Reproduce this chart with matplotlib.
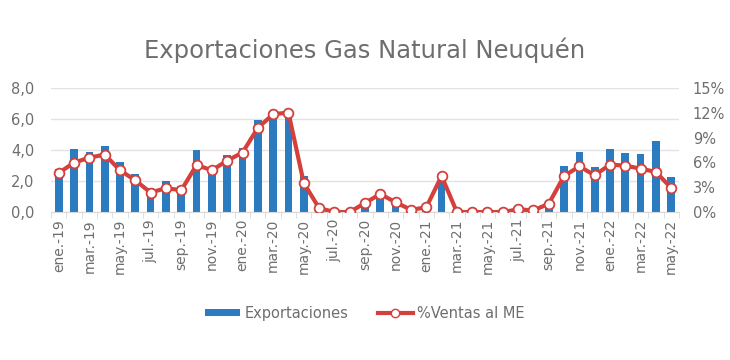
#!/usr/bin/env python
import numpy as np
import matplotlib
matplotlib.use("Agg")
import matplotlib.pyplot as plt
import matplotlib.ticker as ticker
from matplotlib.lines import Line2D
from matplotlib.patches import Patch

plt.rcParams['font.family'] = ['DejaVu Sans']

MESES = ['ene.', 'feb.', 'mar.', 'abr.', 'may.', 'jun.',
         'jul.', 'ago.', 'sep.', 'oct.', 'nov.', 'dic.']
months = [f"{m}-{y}" for y in ('19', '20', '21', '22') for m in MESES][:41]

# exportaciones (eje izq.)
exportaciones = [2.80, 4.04, 3.87, 4.28, 3.23, 2.43, 1.57, 2.02, 1.68, 3.98, 2.62, 3.66,
                 4.15, 5.91, 6.15, 6.06, 2.30, 0.0, 0.0, 0.0, 0.62, 1.10, 0.62, 0.0,
                 0.42, 2.04, 0.0, 0.0, 0.0, 0.0, 0.0, 0.0, 0.50, 2.97, 3.87, 2.88,
                 4.04, 3.83, 3.74, 4.60, 2.26]
# %ventas al mercado externo (eje der.)
ventas_me = [4.72, 5.97, 6.57, 6.94, 5.04, 3.83, 2.34, 2.90, 2.62, 5.69, 5.04, 6.21,
             7.18, 10.16, 11.81, 12.02, 3.51, 0.48, 0.0, 0.0, 1.09, 2.18, 1.17, 0.28,
             0.56, 4.35, 0.0, 0.0, 0.0, 0.0, 0.32, 0.20, 1.00, 4.35, 5.52, 4.44,
             5.73, 5.60, 5.24, 4.84, 2.90]

BLUE = '#2A7BC0'
RED = '#D4403C'
GRAY = '#6E6E6E'
GRID = '#E3E3E3'

fig = plt.figure(figsize=(7.3, 3.6), dpi=100)
ax = fig.add_axes([0.070, 0.411, 0.860, 0.345])
x = np.arange(len(months))

ax.bar(x, exportaciones, width=0.5, color=BLUE, zorder=2)
ax.set_xlim(-0.5, len(months) - 0.5)
ax.set_ylim(0, 8)
ax.yaxis.set_major_locator(ticker.MultipleLocator(2))
ax.yaxis.set_major_formatter(ticker.FuncFormatter(lambda v, p: f"{v:.1f}".replace('.', ',')))
ax.grid(axis='y', color=GRID, linewidth=1, zorder=0)
ax.set_axisbelow(True)

ax.set_xticks(x[::2])
ax.set_xticklabels(months[::2], rotation=90)
ax.set_xticks(np.arange(-0.5, len(months), 1), minor=True)
ax.tick_params(axis='x', which='major', length=0, pad=5, labelsize=10, labelcolor=GRAY)
ax.tick_params(axis='x', which='minor', length=4, color='#D9D9D9')
ax.tick_params(axis='y', length=0, pad=12, labelsize=10.5, labelcolor=GRAY)
for s in ['top', 'right', 'left']:
    ax.spines[s].set_visible(False)
ax.spines['bottom'].set_color('#D9D9D9')

ax1 = ax.twinx()
ax1.plot(x, ventas_me, color=RED, linewidth=3, marker='o', markersize=7,
         markerfacecolor='white', markeredgecolor=RED, markeredgewidth=1.3, zorder=3)
ax1.set_ylim(0, 15)
ax1.yaxis.set_major_locator(ticker.MultipleLocator(3))
ax1.yaxis.set_major_formatter(ticker.FuncFormatter(lambda v, p: f"{v:.0f}%"))
ax1.tick_params(axis='y', length=0, pad=10, labelsize=10.5, labelcolor=GRAY)
for s in ax1.spines.values():
    s.set_visible(False)

fig.text(0.5, 0.86, 'Exportaciones Gas Natural Neuquén', ha='center', va='center',
         fontsize=17.5, color=GRAY)

handles = [Patch(facecolor=BLUE, label='Exportaciones'),
           Line2D([0], [0], color=RED, linewidth=3, marker='o', markersize=6,
                  markerfacecolor='white', markeredgecolor=RED, label='%Ventas al ME')]
leg = fig.legend(handles=handles, loc='center', bbox_to_anchor=(0.5, 0.13), ncol=2,
                 frameon=False, fontsize=10.5, handlelength=2.4, handleheight=0.45,
                 columnspacing=2.0, handletextpad=0.3)
for t in leg.get_texts():
    t.set_color(GRAY)

fig.savefig('out.png', dpi=100)
